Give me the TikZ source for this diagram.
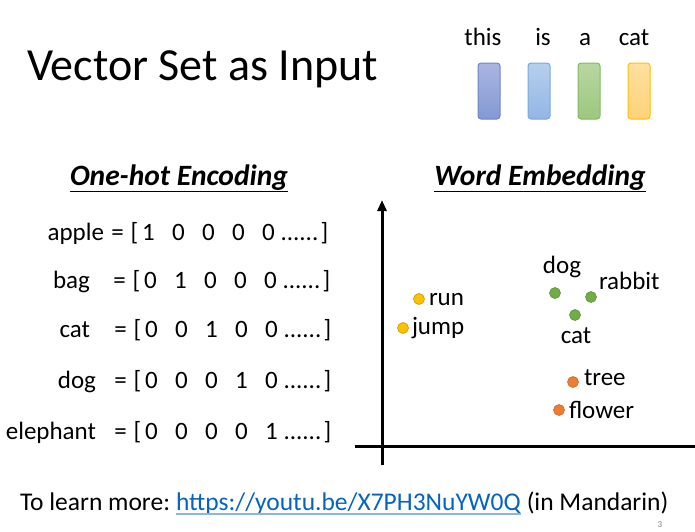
\documentclass[tikz,border=0pt]{standalone}
\usepackage{fontspec}
\setmainfont{Carlito}
\usetikzlibrary{arrows.meta}
\definecolor{b1t}{HTML}{AAB6E0}\definecolor{b1b}{HTML}{8498D3}\definecolor{b1d}{HTML}{6F85C6}
\definecolor{b2t}{HTML}{B6CFEE}\definecolor{b2b}{HTML}{92B6E3}\definecolor{b2d}{HTML}{7DA7DB}
\definecolor{b3t}{HTML}{B7D7A2}\definecolor{b3b}{HTML}{9CC87E}\definecolor{b3d}{HTML}{82B965}
\definecolor{b4t}{HTML}{FFE0A0}\definecolor{b4b}{HTML}{FFD278}\definecolor{b4d}{HTML}{FFC000}
\definecolor{dyel}{HTML}{FFC000}\definecolor{dgrn}{HTML}{70AD47}\definecolor{dorg}{HTML}{ED7D31}
\definecolor{linkc}{HTML}{0563C1}\definecolor{ulc}{HTML}{8FB4E3}
\begin{document}
\begin{tikzpicture}[x=1pt,y=-1pt,
  every node/.style={inner sep=0pt,outer sep=0pt},
  wordbox/.style={rounded corners=3pt,line width=1pt},
  txt/.style={font=\fontsize{25}{29}\selectfont},
  head/.style={font=\fontsize{29.5}{33}\selectfont\bfseries\itshape},
  dotpt/.style={circle,minimum size=11pt,line width=0.6pt},
  foottxt/.style={font=\fontsize{25.5}{30}\selectfont}]
\useasboundingbox (0,0) rectangle (695,531);
% title
\node[anchor=base west,font=\fontsize{46}{52}\selectfont] (title) at (27,80) {Vector Set as Input};
% words and boxes
\node[txt,anchor=base] (wthis) at (483,45) {this};
\node[txt,anchor=base] (wis) at (543,45) {is};
\node[txt,anchor=base] (wa) at (585,45) {a};
\node[txt,anchor=base] (wcat) at (634,45) {cat};
\shade[top color=b1t,bottom color=b1b] [wordbox] (478,63) rectangle (500,119);
\draw[wordbox,b1d] (478,63) rectangle (500,119);
\shade[top color=b2t,bottom color=b2b] [wordbox] (528,63) rectangle (550,119);
\draw[wordbox,b2d] (528,63) rectangle (550,119);
\shade[top color=b3t,bottom color=b3b] [wordbox] (578,63) rectangle (600,119);
\draw[wordbox,b3d] (578,63) rectangle (600,119);
\shade[top color=b4t,bottom color=b4b] [wordbox] (628,63) rectangle (650,119);
\draw[wordbox,b4d] (628,63) rectangle (650,119);
% headings
\node[head,anchor=base] (oh) at (179,185) {\underline{One-hot Encoding}};
\node[head,anchor=base] (we) at (540,185) {\underline{Word Embedding}};
% one-hot rows (baselines)
\foreach \w/\wx/\y/\ex/\one [count=\r] in {apple/104/240/117.5/1,bag/90/288/119.5/2,cat/90/337/120.5/3,dog/96/388/120.5/4,elephant/96/439/120.5/5}{
  \node[txt,anchor=base east] (word\r) at (\wx,\y) {\w};
  \node[txt,anchor=base] (eq\r) at (\ex,\y) {=};
  \node[txt,anchor=base] (lb\r) at (\ex+17,\y) {[};
  \foreach \i in {1,...,5}{
    \ifnum\i=\one
      \node[txt,anchor=base] (d\r\i) at (\ex+1+30*\i,\y) {1};
    \else
      \node[txt,anchor=base] (d\r\i) at (\ex+1+30*\i,\y) {0};
    \fi
  }
  \node[txt,anchor=base west] (dots\r) at (\ex+163,\y) {......};
  \node[txt,anchor=base] (rb\r) at (\ex+207,\y) {]};
}
% axes
\coordinate (ybot) at (382,465);
\coordinate (ytop) at (382,200);
\coordinate (xl) at (355,446);
\coordinate (xr) at (695,446);
\draw[line width=3pt,-{Triangle[width=9pt,length=11pt]}] (ybot) -- (ytop);
\draw[line width=3pt] (xl) -- (xr);
% embedding points
\node[dotpt,fill=dyel,draw=dyel!80!black] (prun) at (419,299) {};
\node[dotpt,fill=dyel,draw=dyel!80!black] (pjump) at (403,328) {};
\node[dotpt,fill=dgrn,draw=dgrn!85!black] (pdog) at (555,293) {};
\node[dotpt,fill=dgrn,draw=dgrn!85!black] (prabbit) at (591,297) {};
\node[dotpt,fill=dgrn,draw=dgrn!85!black] (pcat) at (575,315) {};
\node[dotpt,fill=dorg,draw=dorg!85!black] (ptree) at (573,382) {};
\node[dotpt,fill=dorg,draw=dorg!85!black] (pflower) at (559,410) {};
\node[txt,anchor=west] (lrun) at (429,300) {run};
\node[txt,anchor=west] (ljump) at (412,328) {jump};
\node[txt] (ldog) at (562,267) {dog};
\node[txt,anchor=west] (lrabbit) at (599,281) {rabbit};
\node[txt] (lcat) at (576,336) {cat};
\node[txt,anchor=west] (ltree) at (584,378) {tree};
\node[txt,anchor=west] (lflower) at (569,410) {flower};
% footer
\node[foottxt,anchor=base west] (foot1) at (20,510) {To learn more:};
\node[foottxt,anchor=base west,text=linkc] (link) at ([xshift=6pt]foot1.base east) {https://youtu.be/X7PH3NuYW0Q};
\node[foottxt,anchor=base west] (foot2) at ([xshift=6pt]link.base east) {(in Mandarin)};
\draw[ulc,line width=1.2pt] ([yshift=-4pt]link.base west) -- ([yshift=-4pt]link.base east);
\node[anchor=base,font=\fontsize{9}{10}\selectfont,text=gray] (pnum) at (660,527) {3};
\end{tikzpicture}
\end{document}
